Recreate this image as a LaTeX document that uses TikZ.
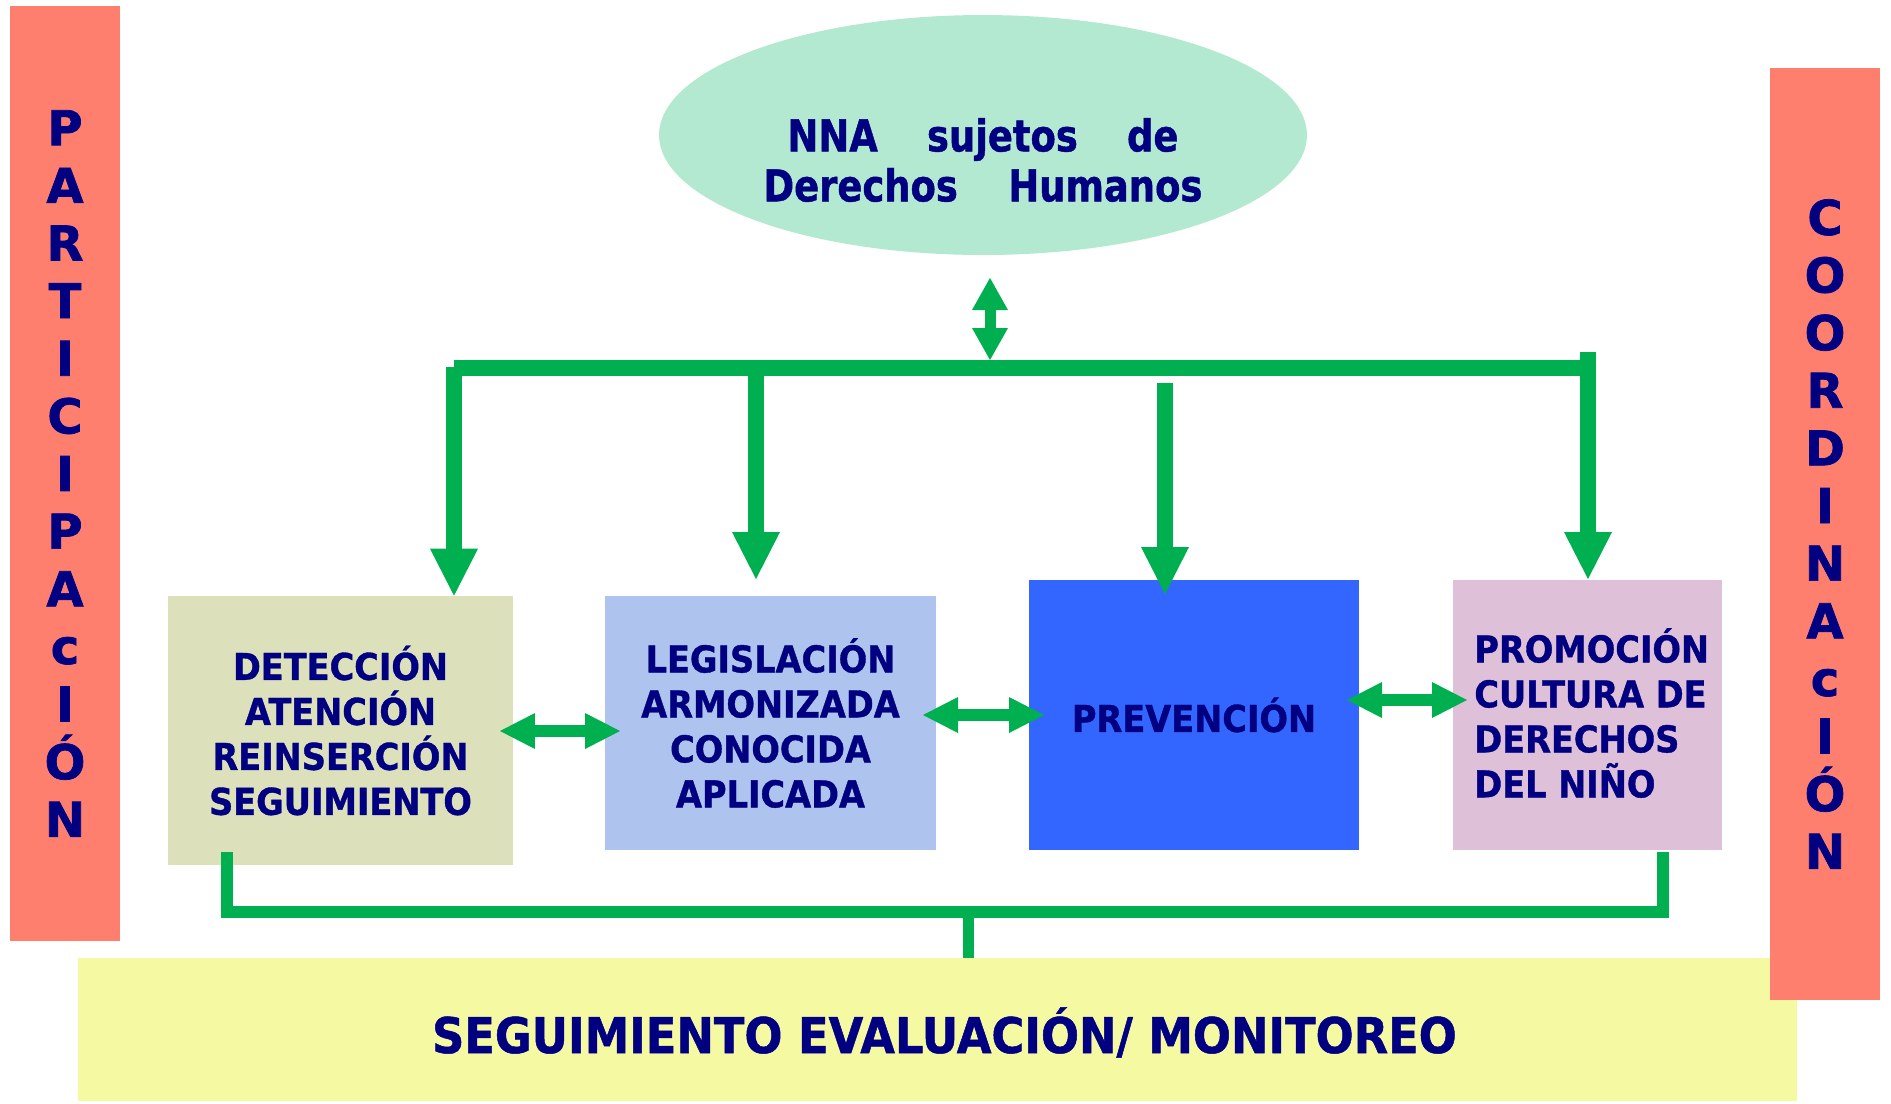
\documentclass[tikz,border=0pt]{standalone}
\usepackage{fontspec}
\usetikzlibrary{arrows.meta,shapes.geometric}
\newfontfamily\condfont[FakeStretch=0.91, BoldFeatures={FakeBold=1}]{DejaVu Sans}
\newfontfamily\ellfont[FakeStretch=0.84, BoldFeatures={FakeBold=1}]{DejaVu Sans}
\newfontfamily\widefont[BoldFeatures={FakeBold=1.5}]{DejaVu Sans}
\definecolor{barpink}{HTML}{FF7F6F}
\definecolor{mint}{HTML}{B3E9D0}
\definecolor{boxolive}{HTML}{DCE1BB}
\definecolor{boxlblue}{HTML}{AEC4EE}
\definecolor{boxblue}{HTML}{3366FF}
\definecolor{boxmauve}{HTML}{DFC0D9}
\definecolor{yellowbg}{HTML}{F5FAA2}
\definecolor{linkgreen}{HTML}{00B050}
\definecolor{navy}{HTML}{000080}
\tikzset{
  panel/.style={rectangle, draw=none, inner sep=0pt},
  bartxt/.style={text=navy, align=center, font=\widefont\bfseries\fontsize{27.3}{32.8}\selectfont},
  boxtxt/.style={text=navy, align=center, font=\condfont\bfseries\fontsize{21}{25.6}\selectfont},
  legarrow/.style={draw=linkgreen, line width=0.32cm, -{Triangle[length=0.94cm,width=0.96cm,line width=0pt]}},
  busline/.style={draw=linkgreen, line width=0.32cm},
  botline/.style={draw=linkgreen, line width=0.24cm, line join=miter},
  hdouble/.style={draw=linkgreen, line width=0.24cm, {Triangle[length=0.7cm,width=0.72cm,line width=0pt]}-{Triangle[length=0.7cm,width=0.72cm,line width=0pt]}},
  vdouble/.style={draw=linkgreen, line width=0.22cm, {Triangle[length=0.64cm,width=0.72cm,line width=0pt]}-{Triangle[length=0.64cm,width=0.72cm,line width=0pt]}}
}
\begin{document}
\begin{tikzpicture}[x=0.02cm,y=-0.02cm]
\useasboundingbox (0,0) rectangle (1891,1103);
\fill[white] (0,0) rectangle (1891,1103);

% bottom yellow panel
\node[panel, fill=yellowbg, minimum width=34.38cm, minimum height=2.86cm] (yellow) at (937.5,1029.5) {};
\node[text=navy, anchor=base, inner sep=0pt, font=\condfont\bfseries\fontsize{28}{34}\selectfont] (yellowtext) at (944.5,1053) {SEGUIMIENTO EVALUACIÓN/ MONITOREO};

% side bars
\node[panel, fill=barpink, minimum width=2.2cm, minimum height=18.7cm, bartxt] (partic) at (65,473.5) {P\\A\\R\\T\\I\\C\\I\\P\\A\\c\\I\\Ó\\N};
\node[panel, fill=barpink, minimum width=2.2cm, minimum height=18.64cm, bartxt] (coord) at (1825,534) {C\\O\\O\\R\\D\\I\\N\\A\\c\\I\\Ó\\N};

% ellipse
\node[ellipse, fill=mint, draw=none, minimum width=12.96cm, minimum height=4.8cm, inner sep=0pt] (nna) at (983,135) {};
\node[text=navy, align=center, inner sep=0pt, font=\ellfont\bfseries\fontsize{25}{28.45}\selectfont] (nnatext) at (983,160)
  {\makebox[7.82cm][s]{NNA\hfill sujetos\hfill de}\\\makebox[8.78cm][s]{Derechos\hfill Humanos}};

% boxes
\node[panel, fill=boxolive, minimum width=6.9cm, minimum height=5.38cm, boxtxt] (box1) at (340.5,730.5) {DETECCIÓN\\ATENCIÓN\\REINSERCIÓN\\SEGUIMIENTO};
\node[panel, fill=boxlblue, minimum width=6.62cm, minimum height=5.08cm, boxtxt] (box2) at (770.5,723) {LEGISLACIÓN\\ARMONIZADA\\CONOCIDA\\APLICADA};
\node[panel, fill=boxblue, minimum width=6.6cm, minimum height=5.4cm, boxtxt] (box3) at (1194,715) {PREVENCIÓN};
\node[panel, fill=boxmauve, minimum width=5.38cm, minimum height=5.4cm] (box4) at (1587.5,715) {};
\node[boxtxt, align=left, anchor=west, inner sep=0pt] (box4text) at (1474,713) {PROMOCIÓN\\CULTURA DE\\DERECHOS\\DEL NIÑO};

% top distribution bus
\coordinate (busL) at (454,368);
\coordinate (busR) at (1588,368);
\coordinate (busMid) at (990,360);
\coordinate (nnaTip) at (990,278);
\draw[busline] (busL) -- (busR);
\draw[vdouble] (busMid) -- (nnaTip);

\coordinate (leg1s) at (454,367);
\coordinate (leg2s) at (756,376);
\coordinate (leg2e) at (756,579);
\coordinate (leg3s) at (1165,383);
\coordinate (leg3e) at (1165,594);
\coordinate (leg4s) at (1588,352);
\coordinate (leg4e) at (1588,579);
\draw[legarrow] (leg1s) -- (leg1s |- box1.north);
\draw[legarrow] (leg2s) -- (leg2e);
\draw[legarrow] (leg3s) -- (leg3e);
\draw[legarrow] (leg4s) -- (leg4e);

% horizontal double arrows
\coordinate (a12l) at (500,731);
\coordinate (a12r) at (620,731);
\coordinate (a23l) at (923,715);
\coordinate (a23r) at (1044,715);
\coordinate (a34l) at (1347,700);
\coordinate (a34r) at (1467,700);
\draw[hdouble] (a12l) -- (a12r);
\draw[hdouble] (a23l) -- (a23r);
\draw[hdouble] (a34l) -- (a34r);

% bottom collector
\coordinate (botL) at (227,852);
\coordinate (botR) at (1663,852);
\coordinate (botMid) at (968,912);
\draw[botline] (botL) |- (1663,912) -- (botR);
\draw[draw=linkgreen, line width=0.22cm] (botMid) -- (botMid |- yellow.north);
\end{tikzpicture}
\end{document}
